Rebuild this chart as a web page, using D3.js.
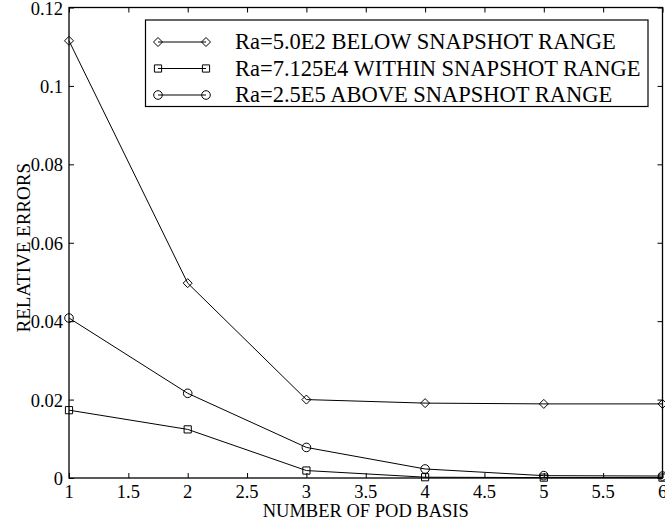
<!DOCTYPE html>
<html>
<head>
<meta charset="utf-8">
<script src="https://cdn.jsdelivr.net/npm/d3@7"></script>
<style>
  html, body { margin: 0; padding: 0; background: #fff; }
  svg { display: block; }
</style>
</head>
<body>
<svg id="chart" width="665" height="525"></svg>
<script>
// Number of POD basis functions
const podBasis = [1, 2, 3, 4, 5, 6];

// Relative errors for each Rayleigh number case
const errBelow  = [0.1115, 0.0497, 0.0200, 0.0191, 0.0189, 0.0189];
const errWithin = [0.0173, 0.0124, 0.0019, 0.0002, 0.0001, 0.0001];
const errAbove  = [0.0408, 0.0216, 0.0078, 0.0023, 0.0006, 0.0005];

const seriesNames = [
  "Ra=5.0E2 BELOW SNAPSHOT RANGE",
  "Ra=7.125E4 WITHIN SNAPSHOT RANGE",
  "Ra=2.5E5 ABOVE SNAPSHOT RANGE"
];
const markerTypes = ["diamond", "square", "circle"];

const xTicks = [1, 1.5, 2, 2.5, 3, 3.5, 4, 4.5, 5, 5.5, 6];
const yTicks = [0, 0.02, 0.04, 0.06, 0.08, 0.1, 0.12];

const xLabel = "NUMBER OF POD BASIS";
const yLabel = "RELATIVE ERRORS";

const series = [errBelow, errWithin, errAbove].map((vals, i) => ({
  name: seriesNames[i],
  marker: markerTypes[i],
  points: podBasis.map((n, j) => ({ n, v: vals[j] }))
}));

const FONT = "'Liberation Serif', Tinos, 'Nimbus Roman', 'DejaVu Serif', serif";

const svg = d3.select("#chart").attr("font-family", FONT);
const plotL = 69, plotR = 662.5, plotT = 7.5, plotB = 478;

const x = d3.scaleLinear().domain([1, 6]).range([plotL, plotR]);
const y = d3.scaleLinear().domain([0, 0.12]).range([plotB, plotT]);

const tickFS = 18.5, xLabFS = 18.5, yLabFS = 19, legFS = 22.5;
const tickLen = 5;

// marker shapes centred at (cx, cy)
function markerPath(type, cx, cy) {
  const p = d3.path();
  if (type === "diamond") {
    const r = 4.5;
    p.moveTo(cx, cy - r); p.lineTo(cx + r, cy); p.lineTo(cx, cy + r); p.lineTo(cx - r, cy); p.closePath();
  } else if (type === "square") {
    const h = 3.6;
    p.rect(cx - h, cy - h, 2 * h, 2 * h);
  } else {
    const r = 4.3;
    p.moveTo(cx + r, cy); p.arc(cx, cy, r, 0, 2 * Math.PI);
  }
  return p.toString();
}

// axes box with inward ticks on all four sides
const axisStyle = g => {
  g.select(".domain").remove();
  g.selectAll(".tick line").attr("stroke", "#000").attr("stroke-width", 1);
};

svg.append("g").attr("transform", `translate(0,${plotB})`)
  .call(d3.axisBottom(x).tickValues(xTicks).tickSizeInner(-tickLen).tickSizeOuter(0).tickFormat(""))
  .call(axisStyle);
svg.append("g").attr("transform", `translate(0,${plotT})`)
  .call(d3.axisTop(x).tickValues(xTicks).tickSizeInner(-tickLen).tickSizeOuter(0).tickFormat(""))
  .call(axisStyle);
svg.append("g").attr("transform", `translate(${plotL},0)`)
  .call(d3.axisLeft(y).tickValues(yTicks).tickSizeInner(-tickLen).tickSizeOuter(0).tickFormat(""))
  .call(axisStyle);
svg.append("g").attr("transform", `translate(${plotR},0)`)
  .call(d3.axisRight(y).tickValues(yTicks).tickSizeInner(-tickLen).tickSizeOuter(0).tickFormat(""))
  .call(axisStyle);

svg.append("rect")
  .attr("x", plotL).attr("y", plotT)
  .attr("width", plotR - plotL).attr("height", plotB - plotT)
  .attr("fill", "none").attr("stroke", "#000").attr("stroke-width", 1.3);

// tick labels
svg.append("g").selectAll("text").data(xTicks).join("text")
  .attr("x", d => x(d)).attr("y", 498)
  .attr("text-anchor", "middle").attr("font-size", tickFS)
  .text(d => String(d));

svg.append("g").selectAll("text").data(yTicks).join("text")
  .attr("x", plotL - 6).attr("y", d => y(d) + 7)
  .attr("text-anchor", "end").attr("font-size", tickFS)
  .text(d => d === 0 ? "0" : String(+d.toFixed(2)));

// axis titles
svg.append("text")
  .attr("x", (plotL + plotR) / 2).attr("y", 517)
  .attr("text-anchor", "middle").attr("font-size", xLabFS)
  .text(xLabel);

svg.append("text")
  .attr("transform", `translate(30,${(plotT + plotB) / 2 + 5}) rotate(-90)`)
  .attr("text-anchor", "middle").attr("font-size", yLabFS)
  .text(yLabel);

// data lines and markers
const line = d3.line().x(d => x(d.n)).y(d => y(d.v));
const sg = svg.append("g").selectAll("g").data(series).join("g");
sg.append("path")
  .attr("d", d => line(d.points))
  .attr("fill", "none").attr("stroke", "#000").attr("stroke-width", 1);
sg.each(function (s) {
  d3.select(this).selectAll("path.m").data(s.points).join("path")
    .attr("class", "m")
    .attr("d", p => markerPath(s.marker, x(p.n), y(p.v)))
    .attr("fill", "none").attr("stroke", "#000").attr("stroke-width", 1);
});

// legend
const lg = svg.append("g");
lg.append("rect")
  .attr("x", 145.5).attr("y", 20).attr("width", 502.5).attr("height", 86.5)
  .attr("fill", "#fff").attr("stroke", "#000").attr("stroke-width", 1.2);
const rowY = [42, 68.5, 95];
const li = lg.selectAll("g").data(series).join("g")
  .attr("transform", (d, i) => `translate(0,${rowY[i]})`);
li.append("line")
  .attr("x1", 158).attr("x2", 206).attr("y1", 0).attr("y2", 0)
  .attr("stroke", "#000").attr("stroke-width", 1);
li.append("path").attr("d", d => markerPath(d.marker, 158, 0))
  .attr("fill", "none").attr("stroke", "#000");
li.append("path").attr("d", d => markerPath(d.marker, 206, 0))
  .attr("fill", "none").attr("stroke", "#000");
li.append("text")
  .attr("x", 235).attr("y", 7).attr("font-size", legFS)
  .text(d => d.name);
</script>
</body>
</html>
